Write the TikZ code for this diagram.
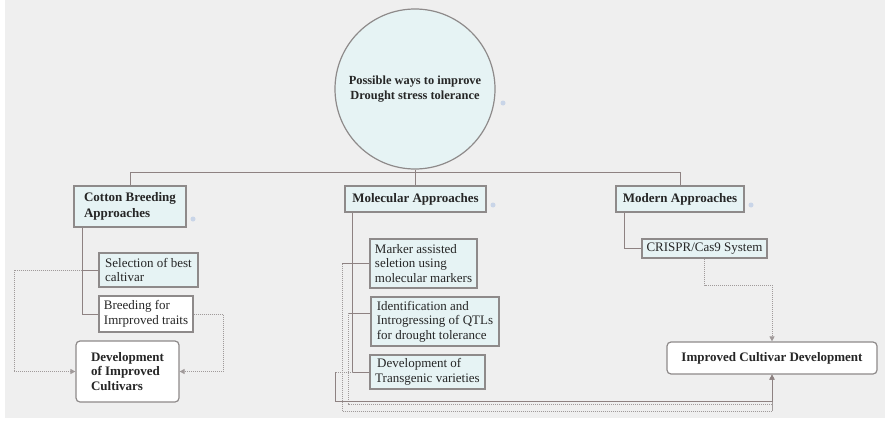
\documentclass[tikz,border=0pt]{standalone}
\usepackage{fontspec}
\setmainfont{Liberation Serif}
\usetikzlibrary{arrows.meta}
\definecolor{bg}{HTML}{EFEFEF}
\definecolor{boxfill}{HTML}{E6F3F4}
\definecolor{boxline}{HTML}{8E8A8A}
\definecolor{wire}{HTML}{8E8282}
\definecolor{dotwire}{HTML}{A09A9A}
\definecolor{ink}{HTML}{262626}
\definecolor{knob}{HTML}{C9D5E8}
\tikzset{
  base/.style={draw=boxline, line width=1.2pt, text=ink, font=\fontsize{13}{14.5}\selectfont,
    align=left, inner sep=0pt, anchor=center},
  tinted/.style={base, fill=boxfill},
  plain/.style={base, fill=white},
  roundbox/.style={base, fill=white, rounded corners=4pt},
  wirel/.style={draw=wire, line width=0.9pt},
  dotl/.style={draw=dotwire, line width=0.9pt, dash pattern=on 1.2pt off 0.8pt},
  tip/.style={-{Triangle[length=5pt,width=5pt]}},
  knobmark/.style={circle, fill=knob, inner sep=0pt, minimum size=5pt}
}
\begin{document}
\begin{tikzpicture}[x=1pt,y=-1pt]
\useasboundingbox (0,0) rectangle (885,420);
\fill[white] (0,0) rectangle (885,420);
\fill[bg] (5,0) rectangle (885,418);

% root circle
\node[circle, draw=boxline, line width=1.2pt, fill=boxfill, minimum size=160pt, inner sep=0pt,
      text=ink, font=\bfseries\fontsize{12.4}{15}\selectfont, align=center]
  (root) at (415,89) {Possible ways to improve\\Drought stress tolerance};

% first level
\node[tinted, minimum width=112pt, minimum height=41pt,
      font=\bfseries\fontsize{13}{15.5}\selectfont] (cotton) at (130,206.5) {Cotton Breeding\\Approaches};
\node[tinted, minimum width=141pt, minimum height=26pt,
      font=\bfseries\fontsize{13}{15}\selectfont] (molec) at (415.5,199) {Molecular Approaches};
\node[tinted, minimum width=128pt, minimum height=26pt,
      font=\bfseries\fontsize{13}{15}\selectfont] (modern) at (680,199) {Modern Approaches};

% cotton breeding children
\node[tinted, minimum width=99pt, minimum height=34pt]
  (select) at (148.5,270) {Selection of best\\caltivar};
\node[plain, minimum width=94pt, minimum height=36pt]
  (breed) at (146,314) {Breeding for\\Imrproved traits};
\node[roundbox, minimum width=103pt, minimum height=61pt,
      font=\bfseries\fontsize{13}{14.5}\selectfont]
  (devimp) at (127.5,371.5) {Development\\of Improved\\Cultivars};

% molecular children
\node[tinted, minimum width=107pt, minimum height=49pt]
  (marker) at (423.5,263.5) {Marker assisted\\seletion using\\molecular markers};
\node[tinted, minimum width=128pt, minimum height=49pt]
  (ident) at (435,321.5) {Identification and\\Introgressing of QTLs\\for drought tolerance};
\node[tinted, minimum width=115pt, minimum height=34pt]
  (transg) at (427.5,372) {\hspace{2pt}Development of\\Transgenic varieties};

% modern children
\node[tinted, minimum width=125pt, minimum height=19pt]
  (crispr) at (704.5,248.5) {CRISPR/Cas9 System};
\node[roundbox, minimum width=210pt, minimum height=32pt, align=center,
      font=\bfseries\fontsize{13}{15}\selectfont]
  (improved) at (772,358) {Improved Cultivar Development};

% collapse markers
\node[knobmark] (k0) at (503,103) {};
\node[knobmark] (k1) at (193,219) {};
\node[knobmark] (k2) at (493,205) {};
\node[knobmark] (k3) at (751,205) {};

% bus from the root
\coordinate (bus) at (415,172);
\draw[wirel] (root.south) -- (bus);
\draw[wirel] (bus) -| (cotton.north);
\draw[wirel] (bus) -| (molec.north);
\draw[wirel] (bus) -| (modern.north);

% cotton breeding tree
\draw[wirel] ([xshift=9pt]cotton.south west) |- (breed.west);
\coordinate (selfork) at ([xshift=-16pt]select.west);
\draw[wirel] (select.west) -- (selfork);
\coordinate (selturn) at (14,270);
\draw[dotl, tip] (selfork) -- (selturn) |- (devimp.west);
\coordinate (breedturn) at (223,314);
\draw[dotl, tip] (breed.east) -- (breedturn) |- (devimp.east);

% molecular tree
\draw[wirel] ([xshift=8pt]molec.south west) |- (transg.west);
\coordinate (mkfork) at (342,263.5);
\draw[wirel] (marker.west) -- (mkfork);
\coordinate (idfork) at (348,313);
\draw[wirel] (ident.west |- idfork) -- (idfork);
\coordinate (tgfork) at (353,372);
\coordinate (tgturn) at (335,372);
\draw[dotl] (tgfork) -- (tgturn);
\coordinate (mkbase) at (342,411);
\coordinate (idbase) at (348,404);
\coordinate (tgbase) at (335,401);
\draw[dotl, tip] (mkfork) -- (mkbase) -| (improved.south);
\draw[dotl, tip] (idfork) -- (idbase) -| (improved.south);
\draw[wirel, line width=0.8pt, tip] (tgturn) -- (tgbase) -| (improved.south);

% modern tree
\draw[wirel] ([xshift=9pt]modern.south west) |- (crispr.west);
\coordinate (crturn) at (704.5,285);
\draw[dotl, tip] (crispr.south) -- (crturn) -| (improved.north);
\end{tikzpicture}
\end{document}
